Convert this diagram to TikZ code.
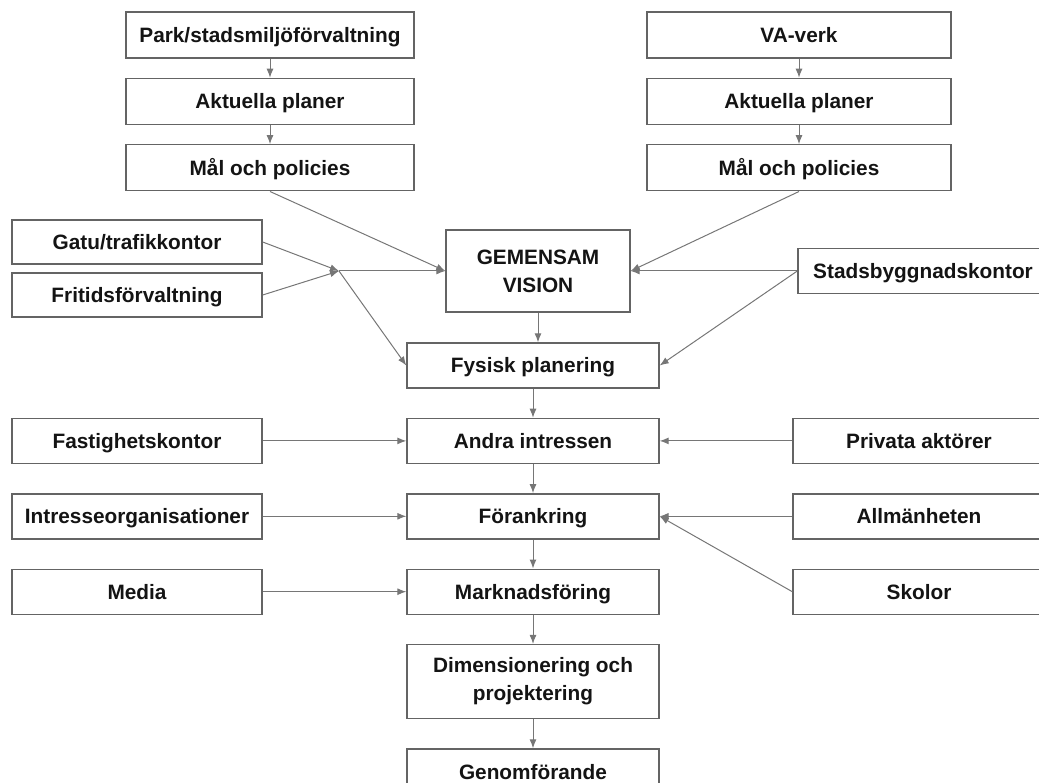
\documentclass[tikz,border=0pt]{standalone}
\usepackage{fontspec}
\setmainfont{Liberation Sans}
\usetikzlibrary{positioning,arrows.meta}
\definecolor{ramgra}{RGB}{100,100,100}
\definecolor{pilgra}{RGB}{118,118,118}

\begin{document}
\begin{tikzpicture}[x=1pt, y=-1pt, node distance=29pt,
    box/.style = {draw=ramgra, line width=1.4pt, fill=white, text=black!92, minimum height=45pt, inner xsep=2pt, text height=15pt, text depth=0pt, align=center, font=\fontsize{20.8}{28}\selectfont\bfseries},
    flerrad/.style = {text height={}, text depth={}},
    sidbox/.style = {box, minimum width=250pt},
    mittbox/.style = {box, minimum width=252pt},
    pil/.style = {draw=pilgra, line width=1pt, -{Latex[length=9pt,width=7pt]}}]
    \useasboundingbox (0,0) rectangle (1039,783);
    \clip (0,0) rectangle (1039,783);

    % Förvaltningarnas kolumner
    \node[box, minimum width=288pt, minimum height=46pt] (park) at (270,35) {Park/stadsmiljöförvaltning};
    \node[box, minimum width=288pt, minimum height=46pt, below=19pt of park] (akt1) {Aktuella planer};
    \node[box, minimum width=288pt, minimum height=46pt, below=19pt of akt1] (mal1) {Mål och policies};
    \node[box, minimum width=304pt, minimum height=46pt] (va) at (799,35) {VA-verk};
    \node[box, minimum width=304pt, minimum height=46pt, below=19pt of va] (akt2) {Aktuella planer};
    \node[box, minimum width=304pt, minimum height=46pt, below=19pt of akt2] (mal2) {Mål och policies};

    % Mittkolumnen
    \node[box, flerrad, minimum width=184pt, minimum height=82pt] (gv) at (538,271) {GEMENSAM\\VISION};
    \node[mittbox] (fp) at (533,365.5) {Fysisk planering};
    \node[mittbox, below=of fp] (ai) {Andra intressen};
    \node[mittbox, below=of ai] (fo) {Förankring};
    \node[mittbox, below=of fo] (mf) {Marknadsföring};
    \node[mittbox, flerrad, minimum height=74pt, below=of mf] (dim) {Dimensionering och\\projektering};
    \node[mittbox, below=of dim] (gen) {Genomförande};

    % Aktörer till vänster och höger
    \node[sidbox, minimum height=44pt] (gatu) at (137,242) {Gatu/trafikkontor};
    \node[sidbox, minimum height=44pt] (frit) at (137,295) {Fritidsförvaltning};
    \coordinate (knut) at (339,271);
    \node[sidbox] (stad) at (923,271) {Stadsbyggnadskontor};
    \node[sidbox] (fast) at (137,0 |- ai) {Fastighetskontor};
    \node[sidbox] (intr) at (137,0 |- fo) {Intresseorganisationer};
    \node[sidbox] (media) at (137,0 |- mf) {Media};
    \node[mittbox] (priv) at (919,0 |- ai) {Privata aktörer};
    \node[mittbox] (allm) at (919,0 |- fo) {Allmänheten};
    \node[mittbox] (skol) at (919,0 |- mf) {Skolor};

    % Pilar
    \draw[pil] (park) -- (akt1);
    \draw[pil] (akt1) -- (mal1);
    \draw[pil] (va) -- (akt2);
    \draw[pil] (akt2) -- (mal2);
    \draw[pil] (mal1.south) -- (gv.west);
    \draw[pil] (mal2.south) -- (gv.east);
    \draw[pil] (gatu.east) -- (knut);
    \draw[pil] (frit.east) -- (knut);
    \draw[pil] (knut) -- (gv.west);
    \draw[pil] (knut) -- (fp.west);
    \draw[pil] (stad.west) -- (gv.east);
    \draw[pil] (stad.west) -- (fp.east);
    \draw[pil] (gv.south) -- (gv.south |- fp.north);
    \draw[pil] (fp) -- (ai);
    \draw[pil] (ai) -- (fo);
    \draw[pil] (fo) -- (mf);
    \draw[pil] (mf) -- (dim);
    \draw[pil] (dim) -- (gen);
    \draw[pil] (fast) -- (ai);
    \draw[pil] (intr) -- (fo);
    \draw[pil] (media) -- (mf);
    \draw[pil] (priv) -- (ai);
    \draw[pil] (allm) -- (fo);
    \draw[pil] (skol.west) -- (fo.east);

\end{tikzpicture}
\end{document}
